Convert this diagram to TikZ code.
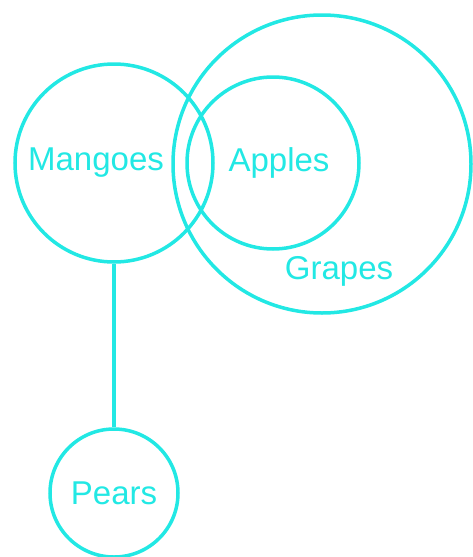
\documentclass[tikz,border=0pt]{standalone}
\usepackage{fontspec}
\setmainfont{Liberation Sans}
\definecolor{venn}{HTML}{22E8E4}
\begin{document}
\begin{tikzpicture}[x=1pt,y=-1pt,
  ring/.style={circle,draw=venn,line width=3.5pt,inner sep=0pt},
  lbl/.style={text=venn,font=\fontsize{33}{33}\selectfont,inner sep=0pt}]
\useasboundingbox (0,0) rectangle (472,557);
\node[ring,minimum size=298pt] (grapes) at (322,164) {};
\node[ring,minimum size=172pt] (apples) at (273,163) {};
\node[ring,minimum size=198pt] (mangoes) at (114,163) {};
\node[ring,minimum size=128pt] (pears) at (114,493) {};
\node[lbl] (tm) at (96,163) {Mangoes};
\node[lbl] (ta) at (279,163) {Apples};
\node[lbl] (tg) at (339,271) {Grapes};
\node[lbl] (tp) at (114,493) {Pears};
\draw[venn,line width=3.5pt] (mangoes.south) -- (pears.north);
\end{tikzpicture}
\end{document}
